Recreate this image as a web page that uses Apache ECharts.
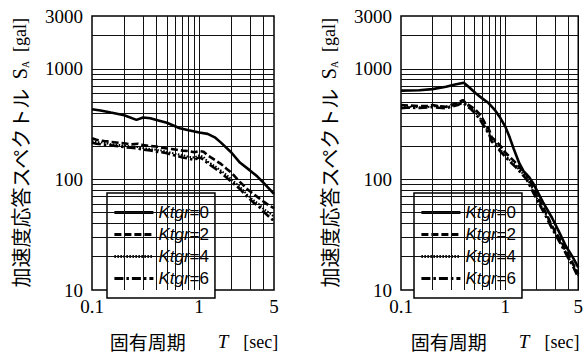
<!DOCTYPE html>
<html>
<head>
<meta charset="utf-8">
<script src="https://cdn.jsdelivr.net/npm/echarts@6/dist/echarts.min.js"></script>
<style>
  html, body { margin: 0; padding: 0; background: #fff; }
  #chart { width: 586px; height: 360px; }
</style>
</head>
<body>
<div id="chart"></div>
<script>
// Series names (legend entries)
const seriesNames = ['Ktgr=0', 'Ktgr=2', 'Ktgr=4', 'Ktgr=6'];

// Tick labels
const periodTicks = [0.1, 1, 5];
const accelTicks = [10, 100, 1000, 3000];

// Minor grid positions inside each decade
const periodGrid = [0.2, 0.3, 0.4, 0.5, 0.6, 0.7, 0.8, 0.9, 1, 2, 3, 4];
const accelGrid = [20, 30, 40, 50, 60, 70, 80, 90, 100, 200, 300, 400, 500, 600, 700, 800, 900, 1000, 2000];

// Left panel: Ktgr=0 spectrum
const periodL0 = [0.1, 0.12, 0.15, 0.2, 0.26, 0.3, 0.35, 0.4, 0.5, 0.66, 0.8, 1.0, 1.2, 1.4, 1.6, 2.0, 2.4, 3.0, 3.5, 4.0, 5.0];
const saL0     = [430, 420, 402, 380, 345, 363, 357, 345, 325, 290, 278, 265, 258, 240, 215, 175, 142, 120, 106, 93, 74];

// Left panel: Ktgr=2, 4, 6 spectra
const periodLK = [0.1, 0.11, 0.13, 0.15, 0.18, 0.2, 0.23, 0.27, 0.3, 0.35, 0.4, 0.45, 0.5, 0.6, 0.7, 0.8, 0.9, 1.0, 1.1, 1.2, 1.4, 1.6, 1.8, 2.0, 2.4, 2.8, 3.2, 3.6, 4.0, 4.5, 5.0];
const saL2 = [235, 228, 222, 218, 214, 212, 207, 210, 204, 200, 198, 193, 190, 186, 182, 180, 176, 180, 178, 165, 150, 138, 125, 115, 95, 82, 74, 68, 63, 58, 55];
const saL4 = [222, 218, 214, 208, 205, 202, 198, 196, 192, 188, 185, 182, 178, 170, 166, 160, 158, 165, 160, 145, 132, 120, 110, 100, 86, 73, 65, 60, 54, 50, 46];
const saL6 = [215, 210, 206, 203, 199, 196, 193, 190, 186, 183, 178, 176, 172, 164, 158, 154, 150, 158, 152, 140, 126, 115, 104, 95, 82, 70, 62, 57, 51, 46, 42];

// Right panel: Ktgr=0 spectrum
const periodR0 = [0.1, 0.15, 0.2, 0.27, 0.33, 0.4, 0.45, 0.52, 0.6, 0.69, 0.8, 0.88, 1.0, 1.1, 1.2, 1.36, 1.5, 1.7, 1.85, 2.0, 2.3, 2.8, 3.3, 3.8, 4.4, 5.0];
const saR0     = [634, 640, 655, 689, 720, 748, 680, 600, 540, 490, 420, 369, 300, 240, 190, 140, 118, 104, 92, 80, 62, 45, 33, 25, 20, 16];

// Right panel: Ktgr=2, 4, 6 spectra
const periodRK = [0.1, 0.12, 0.15, 0.18, 0.2, 0.23, 0.27, 0.3, 0.35, 0.39, 0.43, 0.47, 0.52, 0.58, 0.64, 0.7, 0.74, 0.8, 0.9, 1.0, 1.1, 1.27, 1.4, 1.6, 1.8, 2.0, 2.4, 2.8, 3.4, 4.0, 4.5, 5.0];
const saR2 = [470, 465, 460, 462, 470, 458, 454, 470, 490, 522, 480, 455, 424, 380, 321, 280, 240, 225, 200, 175, 160, 140, 125, 110, 88, 72, 52, 38, 28, 21, 17, 14];
const saR4 = [450, 455, 448, 452, 456, 462, 448, 460, 478, 505, 470, 440, 400, 350, 300, 262, 230, 215, 185, 165, 150, 132, 118, 104, 84, 68, 50, 37, 27, 20, 16.5, 13.5];
const saR6 = [440, 446, 442, 446, 450, 444, 440, 452, 470, 495, 458, 430, 390, 340, 290, 255, 220, 205, 178, 160, 145, 128, 115, 100, 80, 66, 48, 36, 26, 19.5, 16, 13];

// Line styles per Ktgr value
const lineStyles = [
  { type: 'solid', width: 2.6 },
  { type: [7, 3], width: 2.6 },
  { type: [1.5, 1.5], width: 2 },
  { type: [9, 3, 2.5, 3], width: 2.6 }
];

const SERIF = '"Liberation Serif", "DejaVu Serif", serif';
const SANS = '"Liberation Sans", Arial, sans-serif';
const CJK = '"Noto Sans CJK JP", "Noto Sans", sans-serif';

function tickFormatter(ticks) {
  return function (v) {
    for (const t of ticks) {
      if (Math.abs(Math.log10(v / t)) < 1e-6) return String(t);
    }
    return '';
  };
}

function curve(name, xs, ys, g, s) {
  return {
    type: 'line', name: name,
    xAxisIndex: g, yAxisIndex: g,
    data: xs.map((t, i) => [t, ys[i]]),
    symbol: 'none', showSymbol: false,
    smooth: false,
    lineStyle: Object.assign({ color: '#000' }, lineStyles[s]),
    itemStyle: { color: '#000' },
    z: 5, silent: true
  };
}

function gridLines(g) {
  return {
    type: 'line', xAxisIndex: g, yAxisIndex: g, data: [], z: 1, silent: true,
    markLine: {
      silent: true, symbol: 'none', animation: false,
      label: { show: false },
      lineStyle: { color: '#111', width: 1, type: 'solid' },
      data: periodGrid.map(v => ({ xAxis: v })).concat(accelGrid.map(v => ({ yAxis: v })))
    }
  };
}

const plots = [
  { left: 92, legendLeft: 107, shift: 22 },
  { left: 401, legendLeft: 414, shift: 11 }
];

const option = {
  animation: false,
  backgroundColor: '#fff',
  grid: plots.map(p => ({
    left: p.left, top: 16, width: 182, height: 274,
    show: true, borderColor: '#000', borderWidth: 1.5, backgroundColor: 'transparent'
  })),
  xAxis: plots.map((p, i) => ({
    type: 'log', logBase: 10, min: 0.1, max: 5, gridIndex: i,
    axisLine: { show: false }, axisTick: { show: false }, splitLine: { show: false },
    axisLabel: {
      show: true, margin: 7, color: '#000', fontFamily: SERIF, fontSize: 19,
      showMinLabel: true, showMaxLabel: true, formatter: tickFormatter(periodTicks)
    },
    name: '固有周期{t|T}{g|[sec]}',
    nameLocation: 'middle', nameGap: 42,
    nameTextStyle: {
      fontFamily: CJK, fontSize: 19, color: '#000', padding: [0, 0, 0, p.shift],
      rich: {
        t: { fontFamily: SERIF, fontStyle: 'italic', fontSize: 19, color: '#000', padding: [0, 15, 0, 32] },
        g: { fontFamily: SERIF, fontSize: 18, color: '#000' }
      }
    }
  })),
  yAxis: plots.map((p, i) => ({
    type: 'log', logBase: 10, min: 10, max: 3000, gridIndex: i,
    axisLine: { show: false }, axisTick: { show: false }, splitLine: { show: false },
    axisLabel: {
      show: true, margin: 9, color: '#000', fontFamily: SERIF, fontSize: 19,
      showMinLabel: true, showMaxLabel: true, formatter: tickFormatter(accelTicks)
    },
    name: '加速度応答スペクトル  {s|S}{a|A}  {g|[gal]}',
    nameLocation: 'middle', nameGap: 62, nameRotate: 90,
    nameTextStyle: {
      fontFamily: CJK, fontSize: 20, color: '#000',
      rich: {
        s: { fontFamily: SERIF, fontSize: 20, color: '#000' },
        a: { fontFamily: SERIF, fontSize: 10, color: '#000', verticalAlign: 'bottom' },
        g: { fontFamily: SERIF, fontSize: 18, color: '#000' }
      }
    }
  })),
  legend: plots.map(p => ({
    data: seriesNames,
    orient: 'vertical',
    left: p.legendLeft, top: 193,
    itemWidth: 39, itemHeight: 14, itemGap: 5,
    padding: [11, 6, 11, 6],
    backgroundColor: '#fff', borderColor: '#000', borderWidth: 1.5,
    selectedMode: false,
    itemStyle: { color: 'rgba(0,0,0,0)', borderWidth: 0, opacity: 0 },
    lineStyle: { color: '#000', width: 2.8 },
    formatter: n => '{i|Ktgr}' + n.slice(4),
    textStyle: {
      fontFamily: SANS, fontSize: 17, color: '#000',
      rich: { i: { fontFamily: SANS, fontStyle: 'italic', fontSize: 17, color: '#000' } }
    }
  })),
  series: [
    gridLines(0),
    curve(seriesNames[0], periodL0, saL0, 0, 0),
    curve(seriesNames[1], periodLK, saL2, 0, 1),
    curve(seriesNames[2], periodLK, saL4, 0, 2),
    curve(seriesNames[3], periodLK, saL6, 0, 3),
    gridLines(1),
    curve(seriesNames[0], periodR0, saR0, 1, 0),
    curve(seriesNames[1], periodRK, saR2, 1, 1),
    curve(seriesNames[2], periodRK, saR4, 1, 2),
    curve(seriesNames[3], periodRK, saR6, 1, 3)
  ]
};

const chart = echarts.init(document.getElementById('chart'), null, { renderer: 'svg' });
chart.setOption(option);
</script>
</body>
</html>
